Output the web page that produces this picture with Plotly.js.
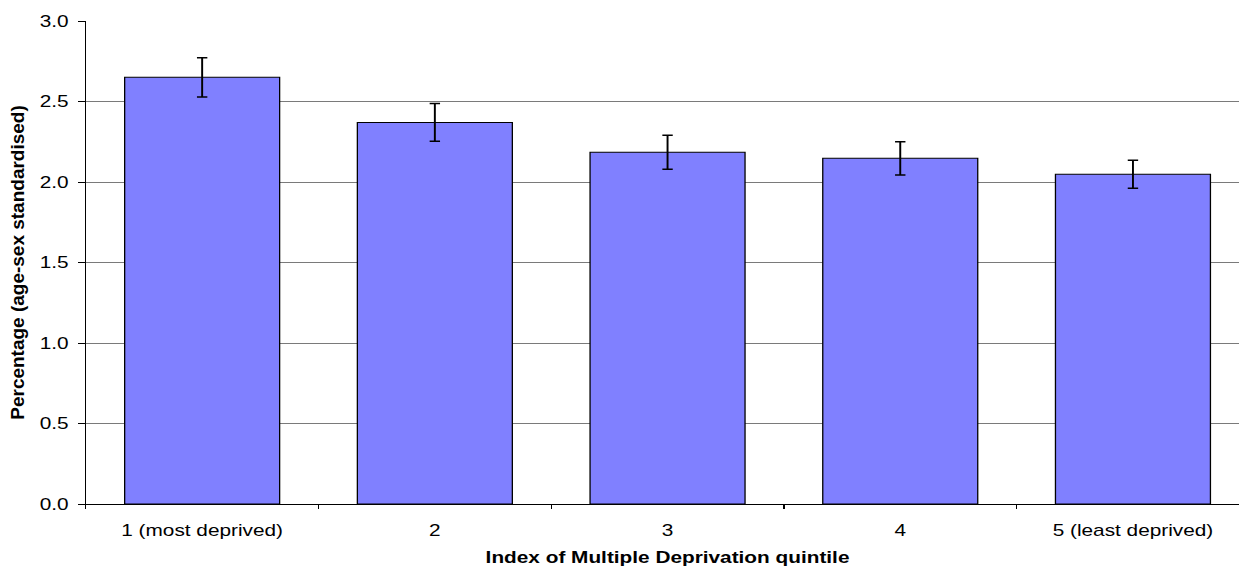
<!DOCTYPE html>
<html>
<head>
<meta charset="utf-8">
<script src="https://cdn.plot.ly/plotly-3.0.1.min.js"></script>
<style>
  html, body { margin: 0; padding: 0; overflow: hidden; background: #fff; width: 1239px; height: 566px; }
  #chart { width: 962px; height: 566px; transform: scaleX(1.3); transform-origin: 0 0; }
</style>
</head>
<body>
<div id="chart"></div>
<script>
const categories = ["1 (most deprived)", "2", "3", "4", "5 (least deprived)"];
const values = [2.65, 2.37, 2.185, 2.147, 2.048];
const errors = [0.122, 0.117, 0.106, 0.103, 0.087];
const yTickVals = [0, 0.5, 1.0, 1.5, 2.0, 2.5, 3.0];
const xTitle = "Index of Multiple Deprivation quintile";
const yTitle = "Percentage (age-sex standardised)";

const FONT = '"Liberation Sans", Arial, sans-serif';

const trace = {
  type: 'bar',
  x: categories,
  y: values,
  marker: { color: '#8080FF', line: { color: '#000000', width: 1 } },
  error_y: { type: 'data', array: errors, visible: true, color: '#000000', thickness: 1.5, width: 4 },
  hoverinfo: 'x+y'
};

const layout = {
  width: 962,
  height: 566,
  margin: { l: 66, r: 1, t: 21, b: 62 },
  paper_bgcolor: '#ffffff',
  plot_bgcolor: '#ffffff',
  bargap: 0.334,
  showlegend: false,
  font: { family: FONT, size: 16, color: '#000000' },
  xaxis: {
    type: 'category',
    showline: true, linecolor: '#000000', linewidth: 1,
    ticks: 'outside', tickson: 'boundaries', ticklen: 4, tickcolor: '#000000', tickwidth: 1,
    ticklabelstandoff: 12,
    tickfont: { family: FONT, size: 16, color: '#000000' },
    showgrid: false, zeroline: false,
    title: { text: xTitle, font: { family: FONT, size: 16, color: '#000000', weight: 'bold' }, standoff: 15 }
  },
  yaxis: {
    range: [0, 3],
    tickvals: yTickVals,
    tickformat: '.1f',
    showline: true, linecolor: '#000000', linewidth: 1,
    ticks: 'outside', ticklen: 5, tickcolor: '#000000', tickwidth: 1,
    ticklabelstandoff: 4,
    tickfont: { family: FONT, size: 16, color: '#000000' },
    showgrid: true, gridcolor: '#7a7a7a', gridwidth: 1,
    zeroline: false,
    title: { text: yTitle, font: { family: FONT, size: 19, color: '#000000', weight: 'bold' }, standoff: 6 }
  }
};

Plotly.newPlot('chart', [trace], layout, { displayModeBar: false, staticPlot: true }).then(function () {
  // The reference's vertical title is long but thin: compress its glyph thickness only
  const t = document.querySelector('.g-ytitle text');
  if (t) {
    const x = parseFloat(t.getAttribute('x'));
    const y = parseFloat(t.getAttribute('y'));
    const k = 0.72;
    t.setAttribute('transform',
      'rotate(-90,' + x + ',' + y + ') translate(' + x + ',' + y + ') scale(1,' + k + ') translate(' + (-x) + ',' + (-y) + ')');
  }
});
</script>
</body>
</html>
